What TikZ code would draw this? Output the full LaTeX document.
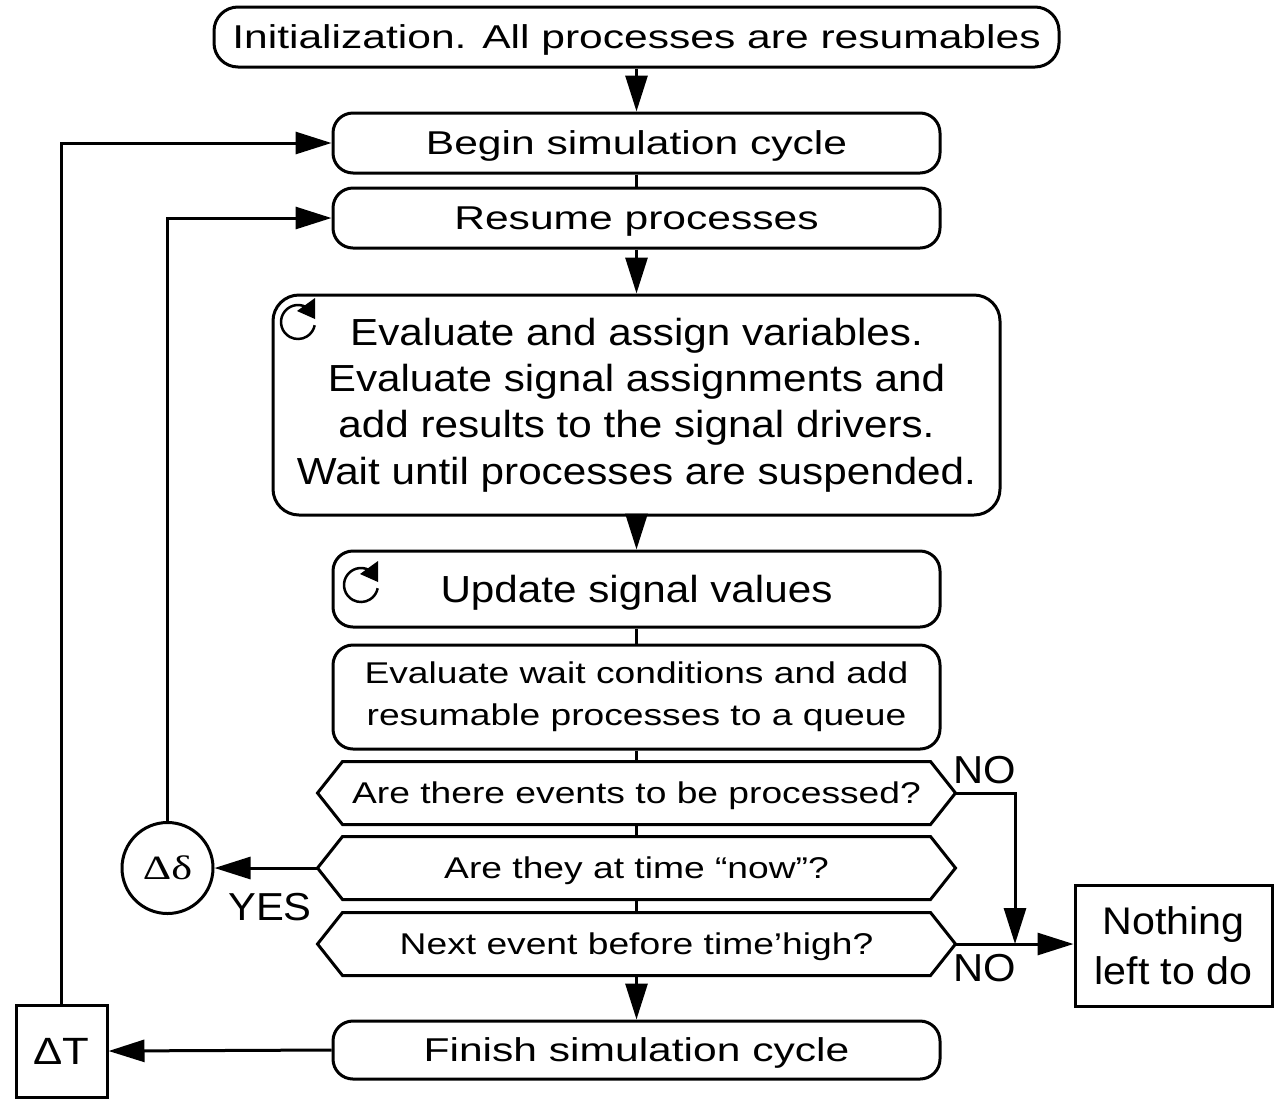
\documentclass[tikz,border=0pt]{standalone}
\usepackage{fontspec}
\setmainfont{Liberation Sans}
\newfontfamily\fsmall[FakeStretch=1.29]{Liberation Sans}
\newfontfamily\fhex[FakeStretch=1.24]{Liberation Sans}
\newfontfamily\fbig[FakeStretch=1.12]{Liberation Sans}
\newfontfamily\flab[FakeStretch=1.07]{Liberation Sans}
\newfontfamily\fser[FakeStretch=1.3]{Liberation Serif}
\newfontfamily\fdt[FakeStretch=1.15]{Liberation Sans}
\usetikzlibrary{arrows.meta}
\begin{document}
\begin{tikzpicture}[x=1pt,y=-1pt,line width=3pt,
  arr/.style={-{Triangle[length=36pt,width=22pt]}},
  rbox/.style={draw, rounded corners=20pt, inner sep=0pt, align=center, minimum width=607pt},
  tsmall/.style={font={\fsmall\fontsize{33}{37}\selectfont}, text depth=0pt},
  thex/.style={font={\fhex\fontsize{30}{42}\selectfont}},
  tbig/.style={font={\fbig\fontsize{37.7}{46.3}\selectfont}},
  tlab/.style={font={\flab\fontsize{39}{50}\selectfont}, inner sep=0pt},
  hexn/.style={thex, minimum width=585pt, minimum height=60pt, inner sep=0pt, text depth=0pt},
  loopicon/.style={line width=2.5pt}
]
\fill[white] (0,0) rectangle (1281,1104);
\useasboundingbox (0,0) rectangle (1281,1104);

\node[rbox, tsmall, minimum width=845pt, minimum height=60pt, rounded corners=24pt] (init) at (636.5,37) {Initialization. All processes are resumables};
\node[rbox, tsmall, minimum height=60pt] (begin) at (636.5,143) {Begin simulation cycle};
\node[rbox, tsmall, minimum height=60pt] (resume) at (636.5,218) {Resume processes};
\node[rbox, tbig, minimum width=727pt, minimum height=220pt, rounded corners=26pt] (eval) at (636.5,405) {Evaluate and assign variables.\\Evaluate signal assignments and\\add results to the signal drivers.\\Wait until processes are suspended.};
\node[rbox, tbig, minimum height=76pt, text depth=0pt] (update) at (636.5,589) {Update signal values};
\node[rbox, thex, minimum height=104pt] (wait) at (636.5,697) {Evaluate wait conditions and add\\resumable processes to a queue};
\path (wait.north) ++(0,0) coordinate (wtop);

\node[hexn] (h1) at (636.5,793) {Are there events to be processed?};
\node[hexn] (h2) at (636.5,868) {Are they at time “now”?};
\node[hexn] (h3) at (636.5,944) {Next event before time’high?};
\foreach \h in {h1,h2,h3}{
  \coordinate (\h L) at ([xshift=-25pt]\h.west);
  \coordinate (\h R) at ([xshift=25pt]\h.east);
  \draw (\h.north west) -- (\h.north east) -- (\h R) -- (\h.south east) -- (\h.south west) -- (\h L) -- cycle;
}

\node[rbox, tsmall, minimum height=58pt] (finish) at (636.5,1050) {Finish simulation cycle};
\node[draw, minimum width=91pt, minimum height=92pt, inner sep=0pt, text depth=0pt, font={\fdt\fontsize{38}{40}\selectfont}] (dT) at (61.5,1051) {ΔT};
\node[draw, circle, minimum size=91pt, inner sep=0pt, font={\fser\fontsize{34}{36}\selectfont}] (dd) at (167.5,868) {Δδ};
\node[draw, minimum width=197pt, minimum height=121pt, inner sep=0pt, align=center, font={\flab\fontsize{38.5}{50}\selectfont}] (nothing) at (1173.5,946) {Nothing\\left to do};

% loop icons
\begin{scope}[shift={(298,322)}, yscale=-1, loopicon]
  \draw (62:17) arc[start angle=62, end angle=349, radius=17];
  \fill (17,24) -- (17,3) -- (-1,11) -- cycle;
\end{scope}
\begin{scope}[shift={(361,585)}, yscale=-1, loopicon]
  \draw (62:17) arc[start angle=62, end angle=349, radius=17];
  \fill (17,24) -- (17,3) -- (-1,11) -- cycle;
\end{scope}

% main flow
\draw[arr] (init) -- (begin);
\draw (begin) -- (resume);
\draw[arr] (resume) -- (eval);
\draw[arr] (eval) -- (update);
\draw (update) -- (wait);
\draw (wait) -- (h1);
\draw (h1) -- (h2);
\draw (h2) -- (h3);
\draw[arr] (h3) -- (finish);

% loops
\draw[arr] (finish.west) -- (dT.east);
\draw[arr] (dT.north) |- (begin.west);
\draw[arr] (h2L) -- (dd);
\draw[arr] (dd.north) |- (resume.west);

% exits
\coordinate (nj) at (1015,944);
\draw[arr] (h1R) -| (nj);
\draw[arr] (h3R) -- (nothing.west |- h3R);

\node[tlab] (no1) at (985,770) {NO};
\node[tlab] (no2) at (985,968) {NO};
\node[tlab] (yes) at (270,907) {YES};
\end{tikzpicture}
\end{document}
